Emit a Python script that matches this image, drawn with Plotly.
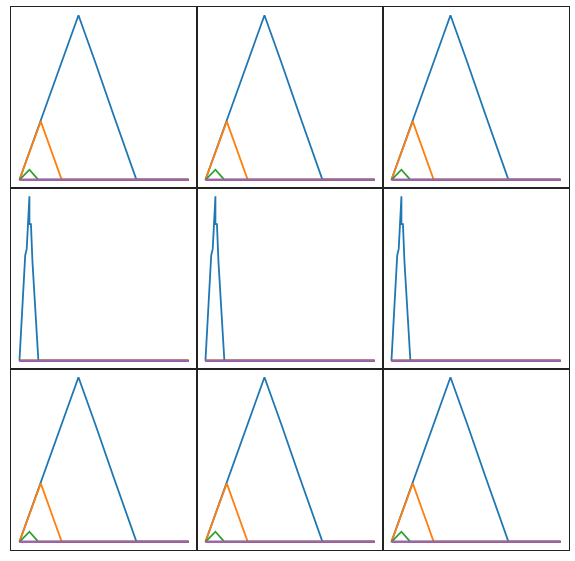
import plotly.graph_objects as go
from plotly.subplots import make_subplots

# curvas de las filas 1 y 3 (x en % del rango, y normalizado al pico azul)
wide_blue_x = [0, 8, 8.6, 17, 17.5, 25, 34.9, 45, 45.5, 55, 55.6, 69.2, 100]
wide_blue_y = [0, 23, 24.5, 49, 50.5, 72, 100, 71, 69.5, 41, 39.5, 0, 0]
wide_orange_x = [0, 12.6, 25, 100]
wide_orange_y = [0, 35.5, 0, 0]
wide_green_x = [0, 5.9, 11.2, 100]
wide_green_y = [0, 6.1, 0, 0]
flat_x = [0, 100]
flat_y = [0, 0]

# curva de la fila 2 (pico estrecho)
spike_blue_x = [0, 3.25, 3.4, 4.3, 4.4, 5.6, 5.9, 5.9, 6.8, 7.7, 11.2, 100]
spike_blue_y = [0, 56, 64, 68, 70, 99.4, 100, 83, 83, 60, 0, 0]

colors = ['#1f77b4', '#ff7f0e', '#2ca02c', '#d62728', '#9467bd']

fig = make_subplots(rows=3, cols=3, horizontal_spacing=0, vertical_spacing=0)

for r in range(1, 4):
    for c in range(1, 4):
        if r == 2:
            series = [(spike_blue_x, spike_blue_y), (flat_x, flat_y), (flat_x, flat_y),
                      (flat_x, flat_y), (flat_x, flat_y)]
        else:
            series = [(wide_blue_x, wide_blue_y), (wide_orange_x, wide_orange_y),
                      (wide_green_x, wide_green_y), (flat_x, flat_y), (flat_x, flat_y)]
        for (xs, ys), col in zip(series, colors):
            fig.add_trace(go.Scatter(x=xs, y=ys, mode='lines',
                                     line=dict(color=col, width=1.8),
                                     showlegend=False, hoverinfo='skip'),
                          row=r, col=c)

fig.update_xaxes(range=[-5, 105], showticklabels=False, ticks='', showgrid=False,
                 zeroline=False, showline=True, mirror=True, linecolor='#222',
                 linewidth=1)
fig.update_yaxes(range=[-5, 105], showticklabels=False, ticks='', showgrid=False,
                 zeroline=False, showline=True, mirror=True, linecolor='#222',
                 linewidth=1)

fig.update_layout(
    width=575, height=561,
    margin=dict(l=11, r=6, t=7, b=11),
    plot_bgcolor='white', paper_bgcolor='white',
    showlegend=False,
)

# quitar el margen por defecto del body y la barra de herramientas
fig.write_html("out.html", config={'displayModeBar': False},
               post_script="document.body.style.margin='0';")
